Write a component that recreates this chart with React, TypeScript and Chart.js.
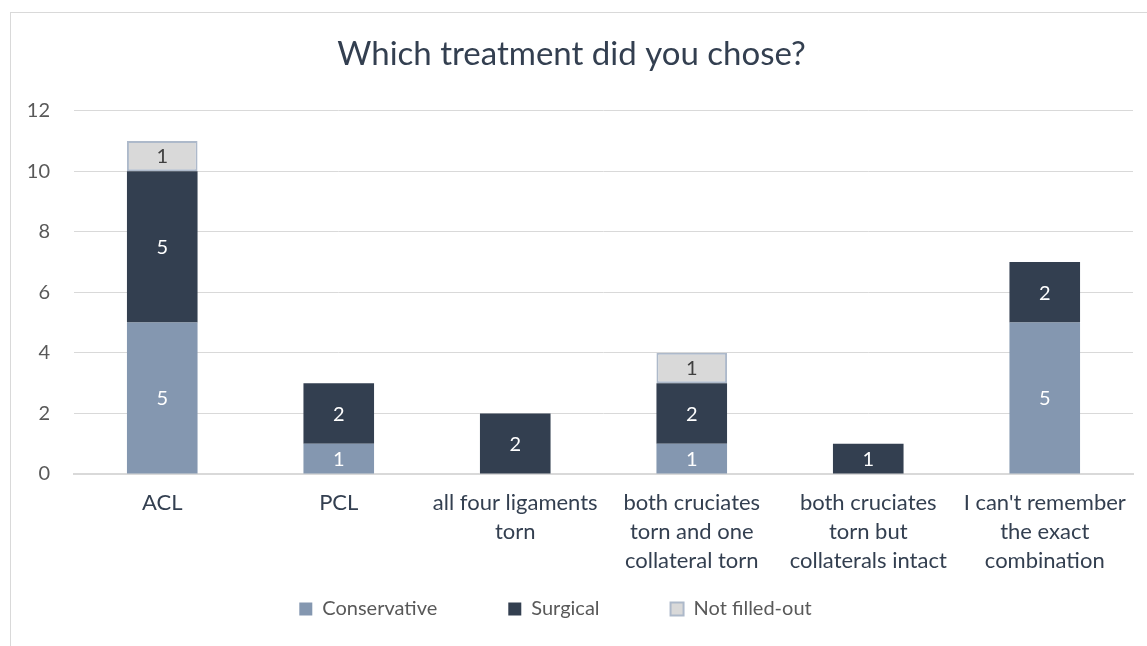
import React, { useEffect, useRef } from "react";
import { Chart, registerables } from "chart.js";

Chart.register(...registerables);

const categories: (string | string[])[] = [
  "ACL",
  "PCL",
  ["all four ligaments", "torn"],
  ["both cruciates", "torn and one", "collateral torn"],
  ["both cruciates", "torn but", "collaterals intact"],
  ["I can't remember", "the exact", "combination"],
];
const conservative: (number | null)[] = [5, 1, null, 1, null, 5];
const surgical: (number | null)[] = [5, 2, 2, 2, 1, 2];
const notFilledOut: (number | null)[] = [1, null, null, 1, null, null];
const yTicks = { min: 0, max: 12, step: 2 };

const FONT = "Lato, 'Open Sans', sans-serif";

const valueLabels = {
  id: "valueLabels",
  afterDatasetsDraw(chart: any) {
    const ctx = chart.ctx;
    ctx.save();
    ctx.font = `20px ${FONT}`;
    ctx.textAlign = "center";
    ctx.textBaseline = "middle";
    chart.data.datasets.forEach((ds: any, di: number) => {
      const meta = chart.getDatasetMeta(di);
      meta.data.forEach((el: any, i: number) => {
        const v = ds.data[i];
        if (v == null || v === 0) return;
        const { x, y, base } = el.getProps(["x", "y", "base"], true);
        ctx.fillStyle = di === 2 ? "#404040" : "#ffffff";
        ctx.fillText(String(v), x, (y + base) / 2 + 1);
      });
    });
    ctx.restore();
  },
};

// Move the legend row up (closer to the axis labels) and slightly left
const legendShift = {
  id: "legendShift",
  afterLayout(chart: any) {
    const lg = chart.legend;
    if (!lg) return;
    lg.top -= 56;
    lg.bottom -= 56;
    lg.left -= 16;
    lg.right -= 16;
  },
};

export default function App() {
  const ref = useRef<HTMLCanvasElement>(null);
  useEffect(() => {
    if (!ref.current) return;
    const chart = new Chart(ref.current, {
      type: "bar",
      data: {
        labels: categories as any,
        datasets: [
          {
            label: "Conservative",
            data: conservative,
            backgroundColor: "#8497b0",
            borderWidth: 0,
          },
          {
            label: "Surgical",
            data: surgical,
            backgroundColor: "#333f50",
            borderWidth: 0,
          },
          {
            label: "Not filled-out",
            data: notFilledOut,
            backgroundColor: "#d9d9d9",
            borderColor: "#adb9ca",
            borderWidth: 2,
            borderSkipped: false,
          },
        ],
      },
      options: {
        animation: false,
        responsive: false,
        maintainAspectRatio: false,
        layout: { padding: { left: 10, right: 14, top: 12, bottom: 0 } },
        datasets: {
          bar: { categoryPercentage: 1, barPercentage: 0.4 },
        },
        plugins: {
          title: {
            display: true,
            text: "Which treatment did you chose?",
            color: "#333f50",
            font: { family: FONT, size: 33, weight: "normal" },
            padding: { top: 23, bottom: 36 },
          },
          legend: {
            position: "bottom",
            labels: {
              boxWidth: 13,
              boxHeight: 13,
              padding: 71,
              color: "#595959",
              font: { family: FONT, size: 20 },
            },
          },
          tooltip: { enabled: false },
        },
        scales: {
          x: {
            stacked: true,
            grid: { display: false, drawTicks: false },
            border: { display: true, color: "#d9d9d9", width: 2 },
            ticks: {
              color: "#333f50",
              font: { family: FONT, size: 22, lineHeight: "29px" },
              padding: 14,
              maxRotation: 0,
              autoSkip: false,
            },
            afterFit(scale: any) {
              scale.height = 110;
            },
          },
          y: {
            stacked: true,
            min: yTicks.min,
            max: yTicks.max,
            grid: { color: "#d9d9d9", drawTicks: false, lineWidth: 1 },
            border: { display: false },
            ticks: {
              stepSize: yTicks.step,
              color: "#595959",
              font: { family: FONT, size: 20 },
              padding: 24,
            },
            afterFit(scale: any) {
              scale.width = 64;
            },
          },
        },
      },
      plugins: [valueLabels, legendShift],
    });
    return () => chart.destroy();
  }, []);

  return (
    <div style={{ position: "fixed", left: 0, top: 0, width: 1147, height: 700, background: "#fff", overflow: "hidden" }}>
      <div
        style={{
          position: "absolute",
          left: 10,
          top: 12,
          width: 1200,
          height: 700,
          border: "1px solid #d9d9d9",
          boxSizing: "border-box",
        }}
      />
      <canvas ref={ref} width={1147} height={685} style={{ position: "absolute", left: 0, top: 0 }} />
    </div>
  );
}
